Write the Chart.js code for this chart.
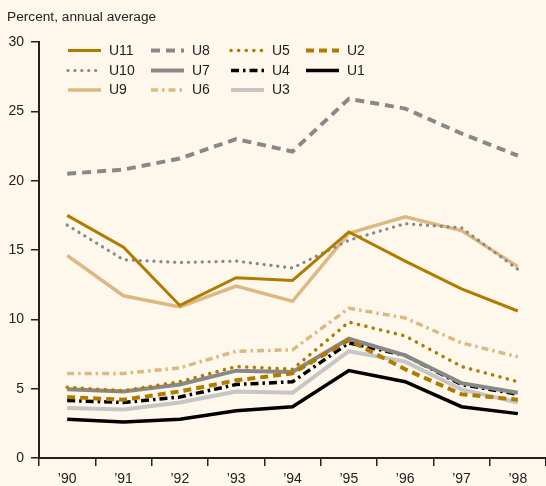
<!DOCTYPE html>
<html>
<head>
<meta charset="utf-8">
<script src="https://cdn.jsdelivr.net/npm/chart.js@4"></script>
<style>
  html, body { margin: 0; padding: 0; background: #FEF8EC; }
  #wrap { width: 546px; height: 486px; position: relative; }
</style>
</head>
<body>
<div id="wrap"><canvas id="c"></canvas></div>
<script>
const years = ["’90", "’91", "’92", "’93", "’94", "’95", "’96", "’97", "’98"];
const yTicks = [0, 5, 10, 15, 20, 25, 30];
const titleText = "Percent, annual average";

const U11 = [17.5, 15.2, 11.0, 13.0, 12.8, 16.3, 14.2, 12.2, 10.6];
const U8  = [20.5, 20.8, 21.6, 23.0, 22.1, 25.9, 25.2, 23.4, 21.8];
const U5  = [5.1, 4.85, 5.5, 6.6, 6.4, 9.8, 8.8, 6.6, 5.5];
const U2  = [4.4, 4.2, 4.8, 5.6, 6.1, 8.5, 6.4, 4.6, 4.2];
const U10 = [16.8, 14.3, 14.1, 14.2, 13.7, 15.7, 16.9, 16.6, 13.6];
const U7  = [4.95, 4.8, 5.3, 6.3, 6.2, 8.6, 7.4, 5.4, 4.7];
const U4  = [4.15, 4.0, 4.4, 5.3, 5.5, 8.3, 7.4, 5.3, 4.6];
const U1  = [2.8, 2.6, 2.8, 3.4, 3.7, 6.3, 5.5, 3.7, 3.2];
const U9  = [14.6, 11.7, 10.9, 12.4, 11.3, 16.2, 17.4, 16.4, 13.8];
const U6  = [6.1, 6.1, 6.5, 7.7, 7.8, 10.8, 10.1, 8.3, 7.3];
const U3  = [3.6, 3.5, 4.0, 4.8, 4.7, 7.7, 6.95, 4.95, 4.0];

const GOLD = '#B07B00', GRAY = '#888888', TAN = '#DCB882', LGRAY = '#C6C6C6', BLACK = '#000000';
const FONT = "'Liberation Sans', Arial, sans-serif";
const TXT = '#222222';

function ds(label, data, color, width, dash, cap) {
  return { label, data, borderColor: color, backgroundColor: color, borderWidth: width,
           borderDash: dash || [], borderCapStyle: cap || 'butt', borderJoinStyle: 'miter',
           pointRadius: 0, pointHoverRadius: 0, tension: 0, fill: false };
}

const datasets = [
  ds('U11', U11, GOLD, 3),
  ds('U8', U8, GRAY, 4, [9, 6]),
  ds('U5', U5, GOLD, 3.5, [0.1, 7.5], 'round'),
  ds('U2', U2, GOLD, 4, [8, 5]),
  ds('U10', U10, GRAY, 3.2, [0.1, 6.8], 'round'),
  ds('U7', U7, GRAY, 4),
  ds('U4', U4, BLACK, 3.5, [8, 4, 2.5, 4]),
  ds('U1', U1, BLACK, 3.5),
  ds('U9', U9, TAN, 3.5),
  ds('U6', U6, TAN, 3.5, [7, 4, 2.5, 4]),
  ds('U3', U3, LGRAY, 4)
];

const legendCols = [68, 151, 231, 306];
const legendRows = [50.5, 70.5, 90];

const customDraw = {
  id: 'customDraw',
  afterDraw(chart) {
    const ctx = chart.ctx;
    ctx.save();
    ctx.fillStyle = TXT;
    ctx.font = "13.7px " + FONT;
    ctx.textBaseline = 'alphabetic';
    ctx.textAlign = 'left';
    ctx.fillText(titleText, 7, 21);
    chart.data.datasets.forEach((d, i) => {
      const x = legendCols[i % 4];
      const y = legendRows[Math.floor(i / 4)];
      ctx.beginPath();
      ctx.strokeStyle = d.borderColor;
      ctx.lineWidth = d.borderWidth;
      ctx.setLineDash(d.borderDash);
      ctx.lineCap = d.borderCapStyle;
      ctx.moveTo(x, y);
      ctx.lineTo(x + 33, y);
      ctx.stroke();
      ctx.setLineDash([]);
      ctx.fillStyle = TXT;
      ctx.font = "14px " + FONT;
      ctx.textBaseline = 'middle';
      ctx.fillText(d.label, x + 41, y + 0.5);
    });
    ctx.restore();
  }
};

new Chart(document.getElementById('c'), {
  type: 'line',
  data: { labels: years, datasets },
  options: {
    responsive: true,
    maintainAspectRatio: false,
    animation: false,
    events: [],
    layout: { padding: { top: 42, left: 0, right: 0, bottom: 0 } },
    plugins: { legend: { display: false }, title: { display: false }, tooltip: { enabled: false } },
    scales: {
      x: {
        type: 'category',
        offset: true,
        grid: { offset: true, drawOnChartArea: false, drawTicks: true, tickLength: 8, color: TXT, lineWidth: 1.5 },
        border: { display: true, color: TXT, width: 2 },
        ticks: { color: TXT, font: { family: FONT, size: 14 }, padding: 5, maxRotation: 0, autoSkip: false },
        afterFit(scale) { scale.height = 28; }
      },
      y: {
        min: 0, max: 30,
        afterBuildTicks(scale) { scale.ticks = yTicks.map(v => ({ value: v })); },
        grid: { drawOnChartArea: false, drawTicks: true, tickLength: 8, color: TXT, lineWidth: 1.5 },
        border: { display: true, color: TXT, width: 2 },
        ticks: { color: TXT, font: { family: FONT, size: 14 }, padding: 7 },
        afterFit(scale) { scale.width = 39; }
      }
    }
  },
  plugins: [customDraw]
});
</script>
</body>
</html>
